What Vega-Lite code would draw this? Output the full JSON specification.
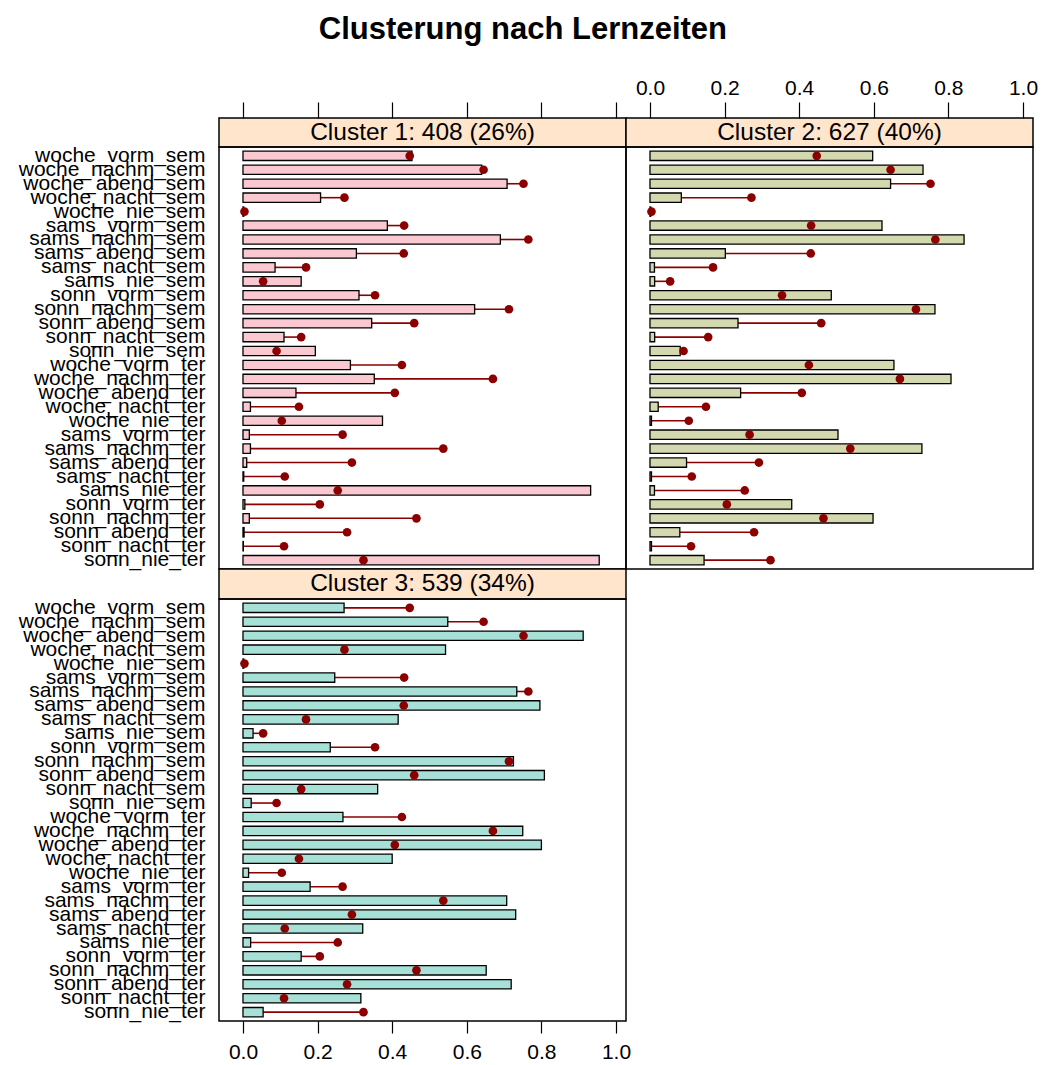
{
  "$schema": "https://vega.github.io/schema/vega-lite/v6.json",
  "padding": {"left": 17, "top": 14, "right": 4, "bottom": 4},
  "background": "white",
  "title": {"text": "Clusterung nach Lernzeiten", "fontSize": 31, "font": "Liberation Sans", "fontWeight": "bold", "anchor": "middle", "color": "black", "offset": 30, "dx": -5},
  "datasets": {
    "strips": [
      {"cluster": 1, "label": "Cluster 1: 408 (26%)"},
      {"cluster": 2, "label": "Cluster 2: 627 (40%)"},
      {"cluster": 3, "label": "Cluster 3: 539 (34%)"}
    ],
    "profiles": [
      {"cluster": 1, "variable": "woche_vorm_sem", "value": 0.453, "mean": 0.447},
      {"cluster": 1, "variable": "woche_nachm_sem", "value": 0.640, "mean": 0.645},
      {"cluster": 1, "variable": "woche_abend_sem", "value": 0.708, "mean": 0.752},
      {"cluster": 1, "variable": "woche_nacht_sem", "value": 0.208, "mean": 0.272},
      {"cluster": 1, "variable": "woche_nie_sem", "value": 0.002, "mean": 0.004},
      {"cluster": 1, "variable": "sams_vorm_sem", "value": 0.387, "mean": 0.432},
      {"cluster": 1, "variable": "sams_nachm_sem", "value": 0.690, "mean": 0.765},
      {"cluster": 1, "variable": "sams_abend_sem", "value": 0.304, "mean": 0.431},
      {"cluster": 1, "variable": "sams_nacht_sem", "value": 0.086, "mean": 0.169},
      {"cluster": 1, "variable": "sams_nie_sem", "value": 0.156, "mean": 0.054},
      {"cluster": 1, "variable": "sonn_vorm_sem", "value": 0.311, "mean": 0.354},
      {"cluster": 1, "variable": "sonn_nachm_sem", "value": 0.621, "mean": 0.713},
      {"cluster": 1, "variable": "sonn_abend_sem", "value": 0.345, "mean": 0.459},
      {"cluster": 1, "variable": "sonn_nacht_sem", "value": 0.110, "mean": 0.156},
      {"cluster": 1, "variable": "sonn_nie_sem", "value": 0.194, "mean": 0.090},
      {"cluster": 1, "variable": "woche_vorm_ter", "value": 0.288, "mean": 0.426},
      {"cluster": 1, "variable": "woche_nachm_ter", "value": 0.352, "mean": 0.670},
      {"cluster": 1, "variable": "woche_abend_ter", "value": 0.142, "mean": 0.407},
      {"cluster": 1, "variable": "woche_nacht_ter", "value": 0.020, "mean": 0.150},
      {"cluster": 1, "variable": "woche_nie_ter", "value": 0.374, "mean": 0.104},
      {"cluster": 1, "variable": "sams_vorm_ter", "value": 0.017, "mean": 0.267},
      {"cluster": 1, "variable": "sams_nachm_ter", "value": 0.020, "mean": 0.537},
      {"cluster": 1, "variable": "sams_abend_ter", "value": 0.010, "mean": 0.292},
      {"cluster": 1, "variable": "sams_nacht_ter", "value": 0.002, "mean": 0.112},
      {"cluster": 1, "variable": "sams_nie_ter", "value": 0.932, "mean": 0.254},
      {"cluster": 1, "variable": "sonn_vorm_ter", "value": 0.005, "mean": 0.206},
      {"cluster": 1, "variable": "sonn_nachm_ter", "value": 0.017, "mean": 0.465},
      {"cluster": 1, "variable": "sonn_abend_ter", "value": 0.003, "mean": 0.279},
      {"cluster": 1, "variable": "sonn_nacht_ter", "value": 0.001, "mean": 0.110},
      {"cluster": 1, "variable": "sonn_nie_ter", "value": 0.955, "mean": 0.323},
      {"cluster": 2, "variable": "woche_vorm_sem", "value": 0.597, "mean": 0.447},
      {"cluster": 2, "variable": "woche_nachm_sem", "value": 0.732, "mean": 0.645},
      {"cluster": 2, "variable": "woche_abend_sem", "value": 0.645, "mean": 0.752},
      {"cluster": 2, "variable": "woche_nacht_sem", "value": 0.084, "mean": 0.272},
      {"cluster": 2, "variable": "woche_nie_sem", "value": 0.002, "mean": 0.004},
      {"cluster": 2, "variable": "sams_vorm_sem", "value": 0.622, "mean": 0.432},
      {"cluster": 2, "variable": "sams_nachm_sem", "value": 0.842, "mean": 0.765},
      {"cluster": 2, "variable": "sams_abend_sem", "value": 0.202, "mean": 0.431},
      {"cluster": 2, "variable": "sams_nacht_sem", "value": 0.012, "mean": 0.169},
      {"cluster": 2, "variable": "sams_nie_sem", "value": 0.0125, "mean": 0.054},
      {"cluster": 2, "variable": "sonn_vorm_sem", "value": 0.486, "mean": 0.354},
      {"cluster": 2, "variable": "sonn_nachm_sem", "value": 0.764, "mean": 0.713},
      {"cluster": 2, "variable": "sonn_abend_sem", "value": 0.236, "mean": 0.459},
      {"cluster": 2, "variable": "sonn_nacht_sem", "value": 0.0125, "mean": 0.156},
      {"cluster": 2, "variable": "sonn_nie_sem", "value": 0.081, "mean": 0.090},
      {"cluster": 2, "variable": "woche_vorm_ter", "value": 0.654, "mean": 0.426},
      {"cluster": 2, "variable": "woche_nachm_ter", "value": 0.807, "mean": 0.670},
      {"cluster": 2, "variable": "woche_abend_ter", "value": 0.243, "mean": 0.407},
      {"cluster": 2, "variable": "woche_nacht_ter", "value": 0.022, "mean": 0.150},
      {"cluster": 2, "variable": "woche_nie_ter", "value": 0.004, "mean": 0.104},
      {"cluster": 2, "variable": "sams_vorm_ter", "value": 0.504, "mean": 0.267},
      {"cluster": 2, "variable": "sams_nachm_ter", "value": 0.729, "mean": 0.537},
      {"cluster": 2, "variable": "sams_abend_ter", "value": 0.098, "mean": 0.292},
      {"cluster": 2, "variable": "sams_nacht_ter", "value": 0.004, "mean": 0.112},
      {"cluster": 2, "variable": "sams_nie_ter", "value": 0.012, "mean": 0.254},
      {"cluster": 2, "variable": "sonn_vorm_ter", "value": 0.380, "mean": 0.206},
      {"cluster": 2, "variable": "sonn_nachm_ter", "value": 0.598, "mean": 0.465},
      {"cluster": 2, "variable": "sonn_abend_ter", "value": 0.080, "mean": 0.279},
      {"cluster": 2, "variable": "sonn_nacht_ter", "value": 0.004, "mean": 0.110},
      {"cluster": 2, "variable": "sonn_nie_ter", "value": 0.145, "mean": 0.323},
      {"cluster": 3, "variable": "woche_vorm_sem", "value": 0.271, "mean": 0.447},
      {"cluster": 3, "variable": "woche_nachm_sem", "value": 0.549, "mean": 0.645},
      {"cluster": 3, "variable": "woche_abend_sem", "value": 0.912, "mean": 0.752},
      {"cluster": 3, "variable": "woche_nacht_sem", "value": 0.543, "mean": 0.272},
      {"cluster": 3, "variable": "woche_nie_sem", "value": 0.002, "mean": 0.004},
      {"cluster": 3, "variable": "sams_vorm_sem", "value": 0.246, "mean": 0.432},
      {"cluster": 3, "variable": "sams_nachm_sem", "value": 0.734, "mean": 0.765},
      {"cluster": 3, "variable": "sams_abend_sem", "value": 0.796, "mean": 0.431},
      {"cluster": 3, "variable": "sams_nacht_sem", "value": 0.416, "mean": 0.169},
      {"cluster": 3, "variable": "sams_nie_sem", "value": 0.027, "mean": 0.054},
      {"cluster": 3, "variable": "sonn_vorm_sem", "value": 0.234, "mean": 0.354},
      {"cluster": 3, "variable": "sonn_nachm_sem", "value": 0.725, "mean": 0.713},
      {"cluster": 3, "variable": "sonn_abend_sem", "value": 0.808, "mean": 0.459},
      {"cluster": 3, "variable": "sonn_nacht_sem", "value": 0.361, "mean": 0.156},
      {"cluster": 3, "variable": "sonn_nie_sem", "value": 0.022, "mean": 0.090},
      {"cluster": 3, "variable": "woche_vorm_ter", "value": 0.268, "mean": 0.426},
      {"cluster": 3, "variable": "woche_nachm_ter", "value": 0.750, "mean": 0.670},
      {"cluster": 3, "variable": "woche_abend_ter", "value": 0.800, "mean": 0.407},
      {"cluster": 3, "variable": "woche_nacht_ter", "value": 0.400, "mean": 0.150},
      {"cluster": 3, "variable": "woche_nie_ter", "value": 0.015, "mean": 0.104},
      {"cluster": 3, "variable": "sams_vorm_ter", "value": 0.180, "mean": 0.267},
      {"cluster": 3, "variable": "sams_nachm_ter", "value": 0.707, "mean": 0.537},
      {"cluster": 3, "variable": "sams_abend_ter", "value": 0.731, "mean": 0.292},
      {"cluster": 3, "variable": "sams_nacht_ter", "value": 0.321, "mean": 0.112},
      {"cluster": 3, "variable": "sams_nie_ter", "value": 0.0205, "mean": 0.254},
      {"cluster": 3, "variable": "sonn_vorm_ter", "value": 0.156, "mean": 0.206},
      {"cluster": 3, "variable": "sonn_nachm_ter", "value": 0.652, "mean": 0.465},
      {"cluster": 3, "variable": "sonn_abend_ter", "value": 0.719, "mean": 0.279},
      {"cluster": 3, "variable": "sonn_nacht_ter", "value": 0.316, "mean": 0.110},
      {"cluster": 3, "variable": "sonn_nie_ter", "value": 0.054, "mean": 0.323}
    ]
  },
  "columns": 2,
  "spacing": 0,
  "bounds": "flush",
  "concat": [
    {
      "width": 407, "height": 29,
      "data": {"name": "strips"},
      "transform": [{"filter": "datum.cluster == 1"}],
      "view": {"fill": "#ffe5cc", "stroke": "black", "strokeWidth": 1.5},
      "mark": {"type": "text", "fontSize": 24.5, "font": "Liberation Sans", "color": "black"},
      "encoding": {
        "x": {"datum": 0.48125, "type": "quantitative",
              "scale": {"domain": [-0.0643, 1.0268], "nice": false, "zero": false},
              "axis": {"orient": "top", "values": [0, 0.2, 0.4, 0.6, 0.8, 1.0], "labels": false, "ticks": true, "tickSize": 16, "tickWidth": 1.2, "tickColor": "black", "domain": false, "grid": false, "title": null}},
        "text": {"field": "label"}
      }
    },
    {
      "width": 407, "height": 29,
      "data": {"name": "strips"},
      "transform": [{"filter": "datum.cluster == 2"}],
      "view": {"fill": "#ffe5cc", "stroke": "black", "strokeWidth": 1.5},
      "mark": {"type": "text", "fontSize": 24.5, "font": "Liberation Sans", "color": "black"},
      "encoding": {
        "x": {"datum": 0.48125, "type": "quantitative",
              "scale": {"domain": [-0.0643, 1.0268], "nice": false, "zero": false},
              "axis": {"orient": "top", "values": [0, 0.2, 0.4, 0.6, 0.8, 1.0], "format": ".1f", "labelFontSize": 21, "labelFont": "Liberation Sans", "labelColor": "black", "labelPadding": 4, "ticks": true, "tickSize": 16, "tickWidth": 1.2, "tickColor": "black", "domain": false, "grid": false, "title": null}},
        "text": {"field": "label"}
      }
    },
    {
      "width": 407, "height": 422,
      "data": {"name": "profiles"},
      "transform": [{"filter": "datum.cluster == 1"}],
      "view": {"stroke": "black", "strokeWidth": 1.5},
      "encoding": {
        "y": {"field": "variable", "type": "nominal", "sort": null,
              "scale": {"paddingInner": 0.33, "paddingOuter": 0.3},
              "axis": {"orient": "left", "ticks": false, "domain": false, "grid": false, "title": null, "labelFontSize": 21, "labelFont": "Liberation Sans", "labelColor": "black", "labelPadding": 14, "labelOverlap": false, "labelLimit": 400}}
      },
      "layer": [
        {"mark": {"type": "rule", "color": "#8b0000", "strokeWidth": 1.6},
         "encoding": {"x": {"field": "value", "type": "quantitative", "scale": {"domain": [-0.0643, 1.0268], "nice": false, "zero": false}, "axis": null}, "x2": {"field": "mean"}}},
        {"mark": {"type": "bar", "fill": "#f9c8d1", "stroke": "black", "strokeWidth": 1.3},
         "encoding": {"x": {"field": "value", "type": "quantitative"}}},
        {"mark": {"type": "point", "filled": true, "color": "#8b0000", "opacity": 1, "size": 75},
         "encoding": {"x": {"field": "mean", "type": "quantitative"}}}
      ]
    },
    {
      "width": 407, "height": 422,
      "data": {"name": "profiles"},
      "transform": [{"filter": "datum.cluster == 2"}],
      "view": {"stroke": "black", "strokeWidth": 1.5},
      "encoding": {
        "y": {"field": "variable", "type": "nominal", "sort": null,
              "scale": {"paddingInner": 0.33, "paddingOuter": 0.3},
              "axis": null}
      },
      "layer": [
        {"mark": {"type": "rule", "color": "#8b0000", "strokeWidth": 1.6},
         "encoding": {"x": {"field": "value", "type": "quantitative", "scale": {"domain": [-0.0643, 1.0268], "nice": false, "zero": false}, "axis": null}, "x2": {"field": "mean"}}},
        {"mark": {"type": "bar", "fill": "#d4d8ae", "stroke": "black", "strokeWidth": 1.3},
         "encoding": {"x": {"field": "value", "type": "quantitative"}}},
        {"mark": {"type": "point", "filled": true, "color": "#8b0000", "opacity": 1, "size": 75},
         "encoding": {"x": {"field": "mean", "type": "quantitative"}}}
      ]
    },
    {
      "width": 407, "height": 30,
      "data": {"name": "strips"},
      "transform": [{"filter": "datum.cluster == 3"}],
      "view": {"fill": "#ffe5cc", "stroke": "black", "strokeWidth": 1.5},
      "mark": {"type": "text", "fontSize": 24.5, "font": "Liberation Sans", "color": "black"},
      "encoding": {
        "text": {"field": "label"}
      }
    },
    {
      "width": 407, "height": 30,
      "data": {"name": "strips"},
      "transform": [{"filter": "datum.cluster == 0"}],
      "view": {"stroke": null, "fill": null},
      "mark": {"type": "text"},
      "encoding": {
        "text": {"field": "label"}
      }
    },
    {
      "width": 407, "height": 422,
      "data": {"name": "profiles"},
      "transform": [{"filter": "datum.cluster == 3"}],
      "view": {"stroke": "black", "strokeWidth": 1.5},
      "encoding": {
        "y": {"field": "variable", "type": "nominal", "sort": null,
              "scale": {"paddingInner": 0.33, "paddingOuter": 0.3},
              "axis": {"orient": "left", "ticks": false, "domain": false, "grid": false, "title": null, "labelFontSize": 21, "labelFont": "Liberation Sans", "labelColor": "black", "labelPadding": 14, "labelOverlap": false, "labelLimit": 400}}
      },
      "layer": [
        {"mark": {"type": "rule", "color": "#8b0000", "strokeWidth": 1.6},
         "encoding": {"x": {"field": "value", "type": "quantitative", "scale": {"domain": [-0.0643, 1.0268], "nice": false, "zero": false},
                            "axis": {"orient": "bottom", "values": [0, 0.2, 0.4, 0.6, 0.8, 1.0], "format": ".1f", "labelFontSize": 21, "labelFont": "Liberation Sans", "labelColor": "black", "labelPadding": 8, "ticks": true, "tickSize": 12, "tickWidth": 1.2, "tickColor": "black", "domain": false, "grid": false, "title": null}},
         "x2": {"field": "mean"}}},
        {"mark": {"type": "bar", "fill": "#a6e0d7", "stroke": "black", "strokeWidth": 1.3},
         "encoding": {"x": {"field": "value", "type": "quantitative"}}},
        {"mark": {"type": "point", "filled": true, "color": "#8b0000", "opacity": 1, "size": 75},
         "encoding": {"x": {"field": "mean", "type": "quantitative"}}}
      ]
    }
  ],
  "config": {"font": "Liberation Sans", "axis": {"labelColor": "black"}}
}
